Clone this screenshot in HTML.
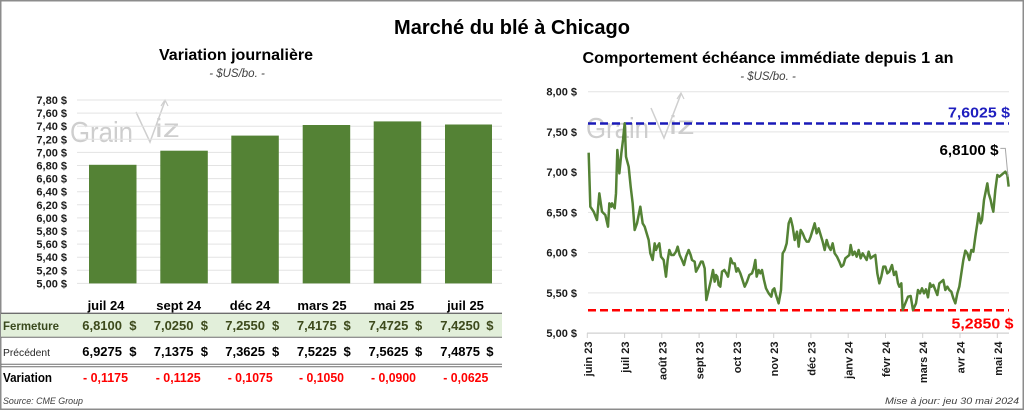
<!DOCTYPE html>
<html><head><meta charset="utf-8"><style>
html,body{margin:0;padding:0;background:#fff;}
svg{display:block;font-family:"Liberation Sans",sans-serif;}
</style></head><body>
<svg width="1024" height="410" viewBox="0 0 1024 410" xmlns="http://www.w3.org/2000/svg">
<rect x="0" y="0" width="1024" height="410" fill="#fff"/>
<rect x="0.75" y="0.75" width="1022.5" height="408.5" fill="none" stroke="#8c8c8c" stroke-width="1.5"/>

<!-- Main title -->
<text x="512" y="34" font-size="20" font-weight="bold" text-anchor="middle" textLength="236" lengthAdjust="spacingAndGlyphs" fill="#000">Marché du blé à Chicago</text>

<!-- LEFT CHART -->
<text x="236" y="60" font-size="16" font-weight="bold" text-anchor="middle" textLength="154" lengthAdjust="spacingAndGlyphs" fill="#000">Variation  journalière</text>
<text x="237" y="77" font-size="11.5" font-style="italic" text-anchor="middle" fill="#404040">- $US/bo. -</text>

<!-- watermark left -->
<g fill="#c9c9c9" opacity="0.9">
<text x="70" y="142" font-size="29" textLength="63" lengthAdjust="spacingAndGlyphs">Grain</text>
<text x="155" y="137" font-size="26" textLength="25" lengthAdjust="spacingAndGlyphs">iz</text>
</g>
<polyline points="136,112 150,142 165,101" fill="none" stroke="#cfcfcf" stroke-width="1.5"/>
<polyline points="161,106 165,100 168,106" fill="none" stroke="#cfcfcf" stroke-width="1.2"/>

<g stroke="#e3e3e3" stroke-width="1">
<line x1="77" x2="502" y1="100" y2="100"/>
<line x1="77" x2="502" y1="113.1" y2="113.1"/>
<line x1="77" x2="502" y1="126.2" y2="126.2"/>
<line x1="77" x2="502" y1="139.3" y2="139.3"/>
<line x1="77" x2="502" y1="152.4" y2="152.4"/>
<line x1="77" x2="502" y1="165.5" y2="165.5"/>
<line x1="77" x2="502" y1="178.6" y2="178.6"/>
<line x1="77" x2="502" y1="191.7" y2="191.7"/>
<line x1="77" x2="502" y1="204.8" y2="204.8"/>
<line x1="77" x2="502" y1="217.9" y2="217.9"/>
<line x1="77" x2="502" y1="231" y2="231"/>
<line x1="77" x2="502" y1="244.1" y2="244.1"/>
<line x1="77" x2="502" y1="257.2" y2="257.2"/>
<line x1="77" x2="502" y1="270.3" y2="270.3"/>
<line x1="77" x2="502" y1="283.4" y2="283.4"/>
</g>
<g font-size="11" font-weight="bold" text-anchor="end" fill="#1a1a1a">
<text x="67" y="104">7,80 $</text>
<text x="67" y="117.1">7,60 $</text>
<text x="67" y="130.2">7,40 $</text>
<text x="67" y="143.3">7,20 $</text>
<text x="67" y="156.4">7,00 $</text>
<text x="67" y="169.5">6,80 $</text>
<text x="67" y="182.6">6,60 $</text>
<text x="67" y="195.7">6,40 $</text>
<text x="67" y="208.8">6,20 $</text>
<text x="67" y="221.9">6,00 $</text>
<text x="67" y="235">5,80 $</text>
<text x="67" y="248.1">5,60 $</text>
<text x="67" y="261.2">5,40 $</text>
<text x="67" y="274.3">5,20 $</text>
<text x="67" y="287.4">5,00 $</text>
</g>
<g fill="#548235">
<rect x="89" y="164.8" width="47.5" height="118.6"/>
<rect x="160.3" y="150.7" width="47.5" height="132.7"/>
<rect x="231.3" y="135.6" width="47.5" height="147.8"/>
<rect x="302.7" y="125" width="47.5" height="158.4"/>
<rect x="373.7" y="121.4" width="47.5" height="162"/>
<rect x="445" y="124.5" width="47" height="158.9"/>
</g>

<!-- table -->
<g font-size="13" font-weight="bold" text-anchor="middle" fill="#000">
<text x="106" y="310">juil 24</text>
<text x="178.7" y="310">sept 24</text>
<text x="250" y="310">déc 24</text>
<text x="322" y="310">mars 25</text>
<text x="394" y="310">mai 25</text>
<text x="465.5" y="310">juil 25</text>
</g>
<rect x="1" y="313.5" width="501" height="23.5" fill="#e2efda"/>
<line x1="1" x2="502" y1="313.3" y2="313.3" stroke="#6e6e6e" stroke-width="1.3"/>
<line x1="1" x2="502" y1="337.3" y2="337.3" stroke="#6e6e6e" stroke-width="1"/>
<line x1="1" x2="502" y1="364.3" y2="364.3" stroke="#6e6e6e" stroke-width="1"/>
<line x1="1" x2="502" y1="366.8" y2="366.8" stroke="#6e6e6e" stroke-width="1"/>

<text x="3" y="330" font-size="12" font-weight="bold" fill="#3a4a1e" textLength="56" lengthAdjust="spacingAndGlyphs">Fermeture</text>
<g font-size="13" font-weight="bold" fill="#3d4a1c">
<text x="122" y="330" text-anchor="end">6,8100</text><text x="129.3" y="330">$</text>
<text x="193.5" y="330" text-anchor="end">7,0250</text><text x="200.7" y="330">$</text>
<text x="265" y="330" text-anchor="end">7,2550</text><text x="272" y="330">$</text>
<text x="336.7" y="330" text-anchor="end">7,4175</text><text x="343.5" y="330">$</text>
<text x="408.3" y="330" text-anchor="end">7,4725</text><text x="415" y="330">$</text>
<text x="480" y="330" text-anchor="end">7,4250</text><text x="486.3" y="330">$</text>
</g>

<text x="3" y="356" font-size="10.5" fill="#262626" textLength="47" lengthAdjust="spacingAndGlyphs">Précédent</text>
<g font-size="13" font-weight="bold" fill="#000">
<text x="122" y="356" text-anchor="end">6,9275</text><text x="129.3" y="356">$</text>
<text x="193.5" y="356" text-anchor="end">7,1375</text><text x="200.7" y="356">$</text>
<text x="265" y="356" text-anchor="end">7,3625</text><text x="272" y="356">$</text>
<text x="336.7" y="356" text-anchor="end">7,5225</text><text x="343.5" y="356">$</text>
<text x="408.3" y="356" text-anchor="end">7,5625</text><text x="415" y="356">$</text>
<text x="480" y="356" text-anchor="end">7,4875</text><text x="486.3" y="356">$</text>
</g>

<text x="3" y="382" font-size="13" font-weight="bold" fill="#000" textLength="49" lengthAdjust="spacingAndGlyphs">Variation</text>
<g font-size="13" font-weight="bold" fill="#ff0000">
<text x="83" y="382" textLength="45" lengthAdjust="spacingAndGlyphs">- 0,1175</text>
<text x="155.7" y="382" textLength="45" lengthAdjust="spacingAndGlyphs">- 0,1125</text>
<text x="227.7" y="382" textLength="45" lengthAdjust="spacingAndGlyphs">- 0,1075</text>
<text x="299" y="382" textLength="45" lengthAdjust="spacingAndGlyphs">- 0,1050</text>
<text x="371" y="382" textLength="45" lengthAdjust="spacingAndGlyphs">- 0,0900</text>
<text x="443.3" y="382" textLength="45" lengthAdjust="spacingAndGlyphs">- 0,0625</text>
</g>
<text x="3" y="404" font-size="9.5" font-style="italic" fill="#404040" textLength="80" lengthAdjust="spacingAndGlyphs">Source: CME Group</text>

<!-- RIGHT CHART -->
<text x="768" y="63" font-size="16" font-weight="bold" text-anchor="middle" textLength="371" lengthAdjust="spacingAndGlyphs" fill="#000">Comportement  échéance  immédiate  depuis  1  an</text>
<text x="768" y="80" font-size="11.5" font-style="italic" text-anchor="middle" fill="#404040">- $US/bo. -</text>

<g stroke="#e3e3e3" stroke-width="1">
<line x1="588" x2="1009" y1="91.7" y2="91.7"/>
<line x1="588" x2="1009" y1="131.9" y2="131.9"/>
<line x1="588" x2="1009" y1="172.2" y2="172.2"/>
<line x1="588" x2="1009" y1="212.4" y2="212.4"/>
<line x1="588" x2="1009" y1="252.6" y2="252.6"/>
<line x1="588" x2="1009" y1="292.9" y2="292.9"/>
</g>
<line x1="587" x2="1009" y1="333.1" y2="333.1" stroke="#d0d0d0" stroke-width="1.2"/>
<g stroke="#d0d0d0" stroke-width="1">
<line x1="587.3" x2="587.3" y1="333" y2="338"/>
<line x1="624.6" x2="624.6" y1="333" y2="338"/>
<line x1="661.8" x2="661.8" y1="333" y2="338"/>
<line x1="699.1" x2="699.1" y1="333" y2="338"/>
<line x1="736.4" x2="736.4" y1="333" y2="338"/>
<line x1="773.7" x2="773.7" y1="333" y2="338"/>
<line x1="810.9" x2="810.9" y1="333" y2="338"/>
<line x1="848.2" x2="848.2" y1="333" y2="338"/>
<line x1="885.5" x2="885.5" y1="333" y2="338"/>
<line x1="922.7" x2="922.7" y1="333" y2="338"/>
<line x1="960" x2="960" y1="333" y2="338"/>
<line x1="997.3" x2="997.3" y1="333" y2="338"/>
</g>
<g font-size="11" font-weight="bold" text-anchor="end" fill="#1a1a1a">
<text x="577" y="95.7">8,00 $</text>
<text x="577" y="135.9">7,50 $</text>
<text x="577" y="176.2">7,00 $</text>
<text x="577" y="216.4">6,50 $</text>
<text x="577" y="256.6">6,00 $</text>
<text x="577" y="296.9">5,50 $</text>
<text x="577" y="337.1">5,00 $</text>
</g>
<g font-size="11" font-weight="bold" text-anchor="end" fill="#1a1a1a">
<text transform="translate(591.8,341.5) rotate(-90)">juin 23</text>
<text transform="translate(629.1,341.5) rotate(-90)">juil 23</text>
<text transform="translate(666.3,341.5) rotate(-90)">août 23</text>
<text transform="translate(703.6,341.5) rotate(-90)">sept 23</text>
<text transform="translate(740.9,341.5) rotate(-90)">oct 23</text>
<text transform="translate(778.2,341.5) rotate(-90)">nov 23</text>
<text transform="translate(815.4,341.5) rotate(-90)">déc 23</text>
<text transform="translate(852.7,341.5) rotate(-90)">janv 24</text>
<text transform="translate(890,341.5) rotate(-90)">févr 24</text>
<text transform="translate(927.2,341.5) rotate(-90)">mars 24</text>
<text transform="translate(964.5,341.5) rotate(-90)">avr 24</text>
<text transform="translate(1001.8,341.5) rotate(-90)">mai 24</text>
</g>

<!-- watermark right -->
<g fill="#c9c9c9" opacity="0.9">
<text x="586" y="138" font-size="29" textLength="63" lengthAdjust="spacingAndGlyphs">Grain</text>
<text x="669" y="134" font-size="26" textLength="26" lengthAdjust="spacingAndGlyphs">iz</text>
</g>
<polyline points="651,108 664,138 681,94" fill="none" stroke="#cfcfcf" stroke-width="1.5"/>
<polyline points="677,99 681,93 684,99" fill="none" stroke="#cfcfcf" stroke-width="1.2"/>

<!-- dashed lines -->
<line x1="588" x2="1009" y1="123.5" y2="123.5" stroke="#1a1ab8" stroke-width="2.5" stroke-dasharray="8,4"/>
<line x1="588" x2="1009" y1="310.2" y2="310.2" stroke="#ff0000" stroke-width="2.5" stroke-dasharray="8,4"/>

<!-- price line -->
<g transform="translate(512,60) scale(0.33333)">
<polyline fill="none" stroke="#548235" stroke-width="7.5" stroke-linejoin="round" points="
230,278 235,440 245,455 255,480 262,400 270,455 280,465 288,500 292,430 298,440 300,430 308,445 312,400 316,270 322,340 328,280 333,240 338,190 342,290 350,320 356,380 362,430 368,510 375,490 385,440 392,490 398,500 410,540 415,580 422,600 428,550 432,570 436,560 442,550 447,590 455,600 462,650 467,600 472,570 478,585 485,585 492,575 497,560 503,585 510,600 516,615 522,590 530,570 536,585 540,600 548,605 552,635 560,620 567,605 572,605 578,625 583,720 590,690 597,660 603,630 608,665 612,645 616,650 620,675 625,680 630,635 637,630 643,640 648,650 652,625 656,595 662,610 668,610 673,635 678,625 685,640 690,655 698,680 705,665 712,645 720,640 725,625 730,600 734,650 740,630 745,640 750,630 756,660 762,685 770,700 778,710 782,690 787,685 792,705 800,730 807,690 812,580 818,570 824,550 830,490 836,475 842,500 848,540 855,515 860,560 866,510 872,520 878,535 884,545 890,545 896,530 902,510 908,490 914,520 920,505 926,525 932,545 938,570 944,540 950,560 956,570 962,550 968,580 975,590 982,605 988,620 994,615 1000,595 1006,590 1012,585 1016,555 1022,585 1028,575 1034,590 1040,570 1046,595 1052,580 1058,590 1064,600 1070,575 1076,595 1082,590 1090,585 1096,640 1102,670 1108,650 1114,620 1120,620 1126,640 1132,635 1140,615 1146,645 1152,635 1158,670 1162,680 1168,670 1172,750 1180,730 1188,710 1196,708 1203,750 1212,730 1218,690 1224,700 1230,685 1236,700 1242,688 1248,712 1254,670 1258,680 1264,675 1270,690 1276,705 1282,670 1288,665 1294,660 1300,690 1306,680 1312,690 1318,695 1324,715 1330,730 1336,700 1342,680 1348,640 1354,600 1360,572 1366,580 1372,600 1378,570 1384,575 1390,530 1396,490 1400,460 1406,490 1410,480 1416,420 1420,400 1426,370 1430,400 1436,420 1440,440 1444,455 1450,390 1456,345 1462,350 1468,345 1474,340 1480,335 1486,345 1490,380"/>
<polyline fill="none" stroke="#a6a6a6" stroke-width="3" points="1465,265 1480,265 1488,350"/>
</g>

<text x="1010" y="117.5" font-size="15" font-weight="bold" text-anchor="end" fill="#1f1fbf" textLength="62" lengthAdjust="spacingAndGlyphs">7,6025  $</text>
<text x="998.5" y="155" font-size="15" font-weight="bold" text-anchor="end" fill="#000" textLength="59" lengthAdjust="spacingAndGlyphs">6,8100 $</text>
<text x="1013.5" y="328.5" font-size="15" font-weight="bold" text-anchor="end" fill="#ff0000" textLength="62" lengthAdjust="spacingAndGlyphs">5,2850  $</text>

<text x="1019" y="404" font-size="9.5" font-style="italic" text-anchor="end" fill="#404040" textLength="134" lengthAdjust="spacingAndGlyphs">Mise à jour: jeu 30 mai 2024</text>
</svg>
</body></html>
